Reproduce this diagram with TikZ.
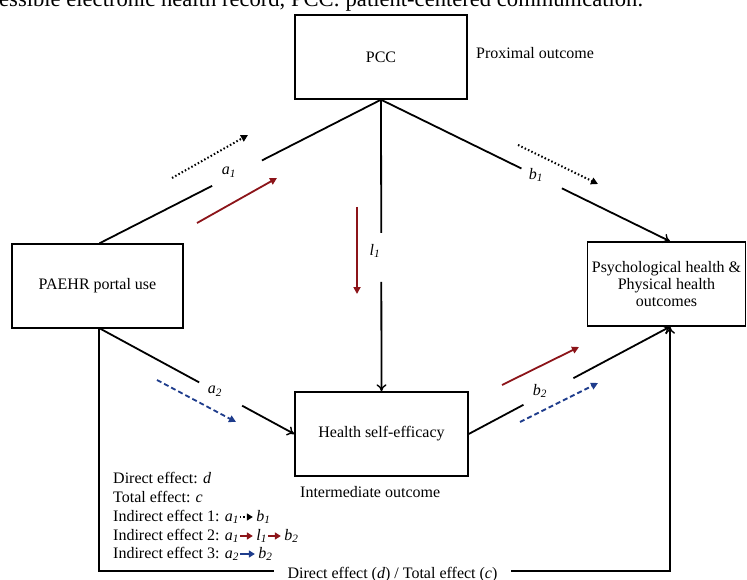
\documentclass[tikz,border=0pt]{standalone}
\usepackage{fontspec}
\setmainfont{Liberation Serif}
\usetikzlibrary{arrows.meta,calc}
\definecolor{dred}{RGB}{140,20,25}
\definecolor{dblue}{RGB}{30,60,140}
\newcommand\vv[2]{\textit{#1}\textsubscript{\textit{#2}}}
\newcommand\legarrow[2]{\tikz[baseline=-4pt]\draw[line width=1.8pt,#1,-{Triangle[length=6pt,width=7pt]}] (0pt,0pt)--(#2,0pt);}
\begin{document}
\begin{tikzpicture}[x=1pt,y=-1pt,
  box/.style={draw,line width=1.4pt,inner sep=0pt,align=center,font=\fontsize{16}{17}\selectfont},
  conn/.style={line width=1.8pt},
  conarr/.style={conn,-{To[length=7pt,width=10pt,line width=1.4pt]}},
  lbl/.style={font=\fontsize{16}{17}\selectfont},
  txt/.style={font=\fontsize{16}{17}\selectfont,inner sep=0pt},
  redarr/.style={line width=1.8pt,dred,-{Triangle[length=7pt,width=7pt]}},
  bluearr/.style={line width=1.8pt,dblue,dashed,dash pattern=on 5pt off 3pt,-{Triangle[length=7pt,width=7pt]}},
  dotarr/.style={line width=2pt,black,dash pattern=on 1.5pt off 2.2pt,-{Triangle[length=7pt,width=7pt]}}
]
\useasboundingbox (0,0) rectangle (747,580);
\clip (0,0) rectangle (747,580);
\fill[white] (0,0) rectangle (747,580);

% cropped caption at the top
\node[anchor=base west,inner sep=0pt,font=\fontsize{22.6}{24}\selectfont] (cap) at (-1,6.5) {essible electronic health record, PCC: patient-centered communication.};

% boxes
\node[box,minimum width=172pt,minimum height=84pt] (pcc) at (381,57) {PCC};
\node[box,minimum width=171pt,minimum height=84pt] (paehr) at (97.5,286) {PAEHR portal use};
\node[box,minimum width=173pt,minimum height=84pt] (hse) at (381.5,434) {Health self-efficacy};
\node[box,minimum width=158pt,minimum height=84pt] (psy) at (666.5,284) {Psychological health \&\\Physical health\\outcomes};

\node[txt,anchor=west] (prox) at (476,53) {Proximal outcome};
\node[txt,anchor=west] (inter) at (300,492) {Intermediate outcome};

% anchor points
\coordinate (pa) at ([xshift=2pt]paehr.north);
\coordinate (pb) at (99,328);
\coordinate (pt) at (pcc.south);
\coordinate (pvt) at ([xshift=3.5pt]psy.north);
\coordinate (pvb) at ([xshift=3.5pt]psy.south);
\coordinate (hw) at (hse.west);
\coordinate (he) at (hse.east);

% a1 : PAEHR -> PCC
\draw[conn] (pa) -- ($(pa)!0.40!(pt)$);
\draw[conn] ($(pa)!0.577!(pt)$) -- (pt);
\node[lbl] (la1) at (229,172) {\vv{a}{1}};

% b1 : PCC -> Psych
\draw[conn] (pt) -- ($(pt)!0.486!(pvt)$);
\draw[conarr] ($(pt)!0.626!(pvt)$) -- (pvt);
\node[lbl] (lb1) at (536,175) {\vv{b}{1}};

% l1 : PCC -> HSE
\draw[conn] (pt) -- ($(pt)!0.457!(hse.north)$);
\draw[conarr] ($(pt)!0.625!(hse.north)$) -- (hse.north);
\node[lbl] (ll1) at (375,251) {\vv{l}{1}};

% a2 : PAEHR -> HSE
\draw[conn] (pb) -- ($(pb)!0.513!(hw)$);
\draw[conarr] ($(pb)!0.733!(hw)$) -- (hw);
\node[lbl] (la2) at (215,391) {\vv{a}{2}};

% b2 : HSE -> Psych
\draw[conn] (he) -- ($(he)!0.272!(pvb)$);
\draw[conarr] ($(he)!0.52!(pvb)$) -- (pvb);
\node[lbl] (lb2) at (540,391) {\vv{b}{2}};

% direct effect
\coordinate (d1) at (99,571);
\coordinate (d2) at (274,571);
\coordinate (d3) at (511,571);
\coordinate (d4) at ([xshift=3.5pt]psy.south |- 0,571);
\draw[conn] (pb) -- (d1) -- (d2);
\draw[conarr] (d3) -- (d4) -- (pvb);
\node[txt,anchor=base] (ldir) at (392.5,578) {Direct effect (\textit{d}) / Total effect (\textit{c})};

% path arrows
\coordinate (s1) at (172,178); \coordinate (e1) at (248,135);
\draw[dotarr] (s1) -- (e1);
\coordinate (s2) at (197,223); \coordinate (e2) at (277,178);
\draw[redarr] (s2) -- (e2);
\coordinate (s3) at (357,207); \coordinate (e3) at (357,294);
\draw[redarr] (s3) -- (e3);
\coordinate (s4) at (518,145); \coordinate (e4) at (598,184);
\draw[dotarr] (s4) -- (e4);
\coordinate (s5) at (157,380); \coordinate (e5) at (236,422);
\draw[bluearr] (s5) -- (e5);
\coordinate (s6) at (502,385); \coordinate (e6) at (579,347);
\draw[redarr] (s6) -- (e6);
\coordinate (s7) at (520,422); \coordinate (e7) at (598,383);
\draw[bluearr] (s7) -- (e7);

% legend
\node[txt,anchor=base west] (leg1) at (113,483) {Direct effect: \textit{d}};
\node[txt,anchor=base west] (leg2) at (113,502) {Total effect: \textit{c}};
\node[txt,anchor=base west] (leg3) at (113,521) {Indirect effect 1: \vv{a}{1}\legarrow{black,dash pattern=on 1.5pt off 2pt}{13pt}\,\vv{b}{1}};
\node[txt,anchor=base west] (leg4) at (113,540) {Indirect effect 2: \vv{a}{1}\legarrow{dred}{13pt}\,\vv{l}{1}\legarrow{dred}{13pt}\,\vv{b}{2}};
\node[txt,anchor=base west] (leg5) at (113,558) {Indirect effect 3: \vv{a}{2}\legarrow{dblue}{15pt}\,\vv{b}{2}};
\end{tikzpicture}
\end{document}
